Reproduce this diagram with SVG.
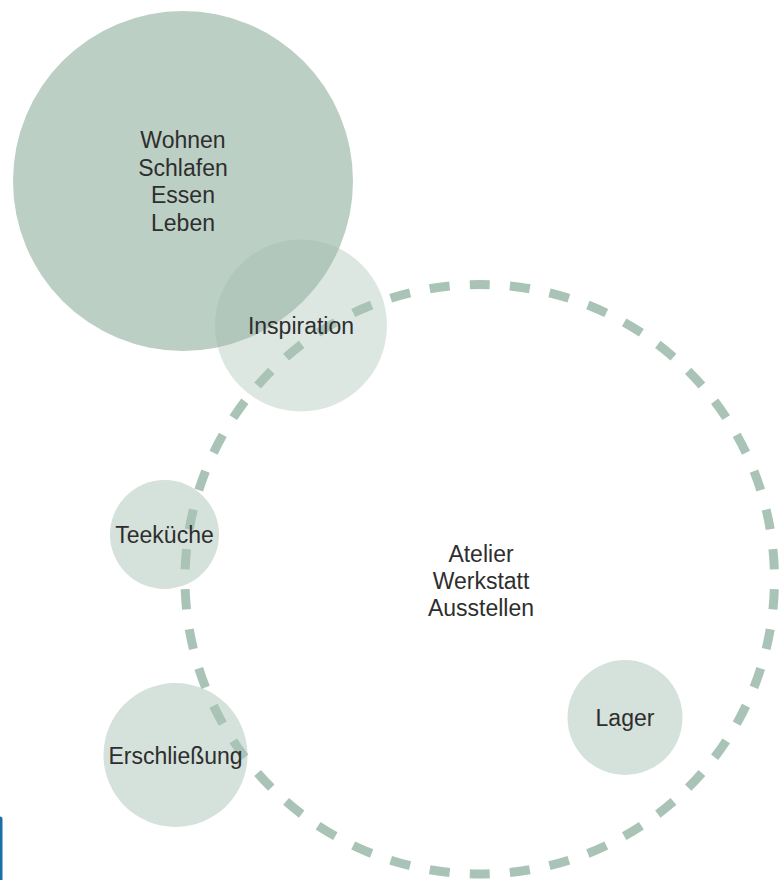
<svg xmlns="http://www.w3.org/2000/svg" width="779" height="880" viewBox="0 0 779 880">
  <style>
    .lbl { font-family: "Liberation Sans", Arial, Helvetica, sans-serif; font-size: 23px; fill: #2e2e2e; text-anchor: middle; }
    .room { fill: #d5e1db; }
    .ring { fill: none; stroke: #a9c4b7; stroke-width: 9; stroke-dasharray: 20 20; stroke-dashoffset: -10; }
  </style>
  <rect width="779" height="880" fill="#ffffff"/>

  <!-- private living zone -->
  <g id="wohnen">
    <circle cx="183" cy="181" r="170" fill="#bccfc4"/>
    <text class="lbl" x="183" y="148">Wohnen</text>
    <text class="lbl" x="183" y="175.6">Schlafen</text>
    <text class="lbl" x="183" y="203.3">Essen</text>
    <text class="lbl" x="183" y="231">Leben</text>
  </g>

  <g id="inspiration">
    <circle cx="301" cy="325.5" r="86" fill="#9bb8aa" fill-opacity="0.34"/>
  </g>

  <g id="teekueche">
    <circle class="room" cx="164.5" cy="534.5" r="54.5"/>
  </g>

  <g id="erschliessung">
    <circle class="room" cx="175.5" cy="755" r="72"/>
  </g>

  <g id="lager">
    <circle class="room" cx="625" cy="717.5" r="57.5"/>
    <text class="lbl" x="625" y="726">Lager</text>
  </g>

  <!-- dashed boundary of the studio zone -->
  <g id="connectors">
    <circle class="ring" cx="479.75" cy="579.25" r="294.75" pathLength="1840"/>
  </g>

  <g id="atelier">
    <text class="lbl" x="481" y="561.5">Atelier</text>
    <text class="lbl" x="481" y="588.5">Werkstatt</text>
    <text class="lbl" x="481" y="615.5">Ausstellen</text>
  </g>

  <!-- labels above the ring -->
  <text class="lbl" x="301" y="334">Inspiration</text>
  <text class="lbl" x="164.5" y="543">Teeküche</text>
  <text class="lbl" x="175.5" y="763.5">Erschließung</text>

  <!-- edge tab -->
  <rect x="-10" y="816.5" width="12.5" height="80" rx="3" fill="#1b6fa4"/>
</svg>
